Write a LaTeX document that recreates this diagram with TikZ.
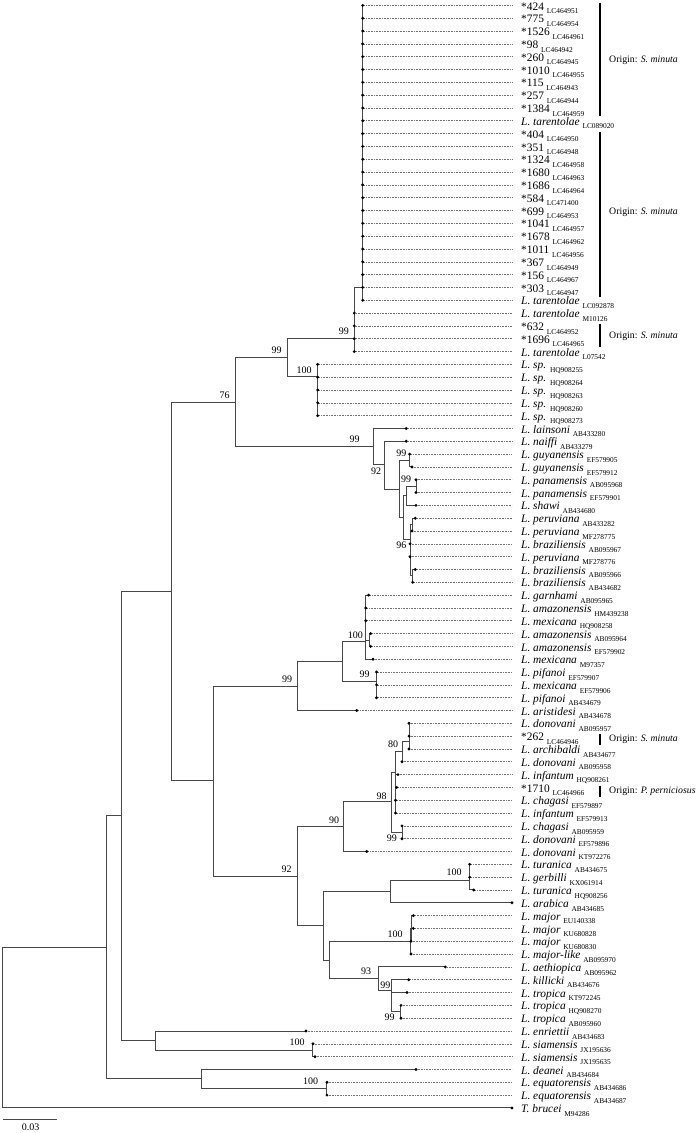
\documentclass[tikz,border=0pt]{standalone}
\usepackage{fontspec}
\setmainfont{Liberation Serif}
\newcommand\acc[1]{\raisebox{-3.6pt}{\fontsize{7.4pt}{8pt}\selectfont #1}}
\newcommand\Li[1]{\textit{L. #1}}
\newcommand\lf[4]{%
  \pgfmathsetmacro\yy{5.4+12.82*#1}%
  \coordinate (t#1) at (#2,\yy);%
  \coordinate (t#1e) at (512,\yy);%
  \node[lab] (t#1l) at (521,\yy+4.6) {#3 \acc{#4}};%
  \draw[dl] (t#1) -- (t#1e);%
}
\tikzset{
  lab/.style={anchor=base west, inner sep=0pt, font=\fontsize{11.4pt}{13pt}\selectfont},
  bs/.style={inner sep=0pt, font=\fontsize{10pt}{11pt}\selectfont},
  orig/.style={anchor=west, inner sep=0pt, font=\fontsize{9.8pt}{11pt}\selectfont},
  br/.style={draw=black!72, line width=1pt},
  dl/.style={draw=black!55, line width=0.6pt, densely dotted},
  bar/.style={draw=black, line width=2.6pt},
}
\begin{document}
\begin{tikzpicture}[x=1pt,y=-1pt]
\useasboundingbox (0,0) rectangle (700,1133);
% leaves
\lf{0}{362.7}{*424}{LC464951}
\lf{1}{362.7}{*775}{LC464954}
\lf{2}{362.7}{*1526}{LC464961}
\lf{3}{362.7}{*98}{LC464942}
\lf{4}{362.7}{*260}{LC464945}
\lf{5}{362.7}{*1010}{LC464955}
\lf{6}{362.7}{*115}{LC464943}
\lf{7}{362.7}{*257}{LC464944}
\lf{8}{362.7}{*1384}{LC464959}
\lf{9}{362.7}{\Li{tarentolae}}{LC089020}
\lf{10}{362.7}{*404}{LC464950}
\lf{11}{362.7}{*351}{LC464948}
\lf{12}{362.7}{*1324}{LC464958}
\lf{13}{362.7}{*1680}{LC464963}
\lf{14}{362.7}{*1686}{LC464964}
\lf{15}{362.7}{*584}{LC471400}
\lf{16}{362.7}{*699}{LC464953}
\lf{17}{362.7}{*1041}{LC464957}
\lf{18}{362.7}{*1678}{LC464962}
\lf{19}{362.7}{*1011}{LC464956}
\lf{20}{362.7}{*367}{LC464949}
\lf{21}{362.7}{*156}{LC464967}
\lf{22}{362.7}{*303}{LC464947}
\lf{23}{362.7}{\Li{tarentolae}}{LC092878}
\lf{24}{354.3}{\Li{tarentolae}}{M10126}
\lf{25}{354.3}{*632}{LC464952}
\lf{26}{354.3}{*1696}{LC464965}
\lf{27}{354.3}{\Li{tarentolae}}{L07542}
\lf{28}{317.7}{\Li{sp.}}{HQ908255}
\lf{29}{317.7}{\Li{sp.}}{HQ908264}
\lf{30}{317.7}{\Li{sp.}}{HQ908263}
\lf{31}{317.7}{\Li{sp.}}{HQ908260}
\lf{32}{317.7}{\Li{sp.}}{HQ908273}
\lf{33}{406.3}{\Li{lainsoni}}{AB433280}
\lf{34}{406.3}{\Li{naiffi}}{AB433279}
\lf{35}{409.7}{\Li{guyanensis}}{EF579905}
\lf{36}{412}{\Li{guyanensis}}{EF579912}
\lf{37}{416}{\Li{panamensis}}{AB095968}
\lf{38}{416}{\Li{panamensis}}{EF579901}
\lf{39}{416}{\Li{shawi}}{AB434680}
\lf{40}{415.3}{\Li{peruviana}}{AB433282}
\lf{41}{412}{\Li{peruviana}}{MF278775}
\lf{42}{410}{\Li{braziliensis}}{AB095967}
\lf{43}{410}{\Li{peruviana}}{MF278776}
\lf{44}{415.3}{\Li{braziliensis}}{AB095966}
\lf{45}{412.7}{\Li{braziliensis}}{AB434682}
\lf{46}{368.7}{\Li{garnhami}}{AB095965}
\lf{47}{365.7}{\Li{amazonensis}}{HM439238}
\lf{48}{365.7}{\Li{mexicana}}{HQ908258}
\lf{49}{370.7}{\Li{amazonensis}}{AB095964}
\lf{50}{370.7}{\Li{amazonensis}}{EF579902}
\lf{51}{373}{\Li{mexicana}}{M97357}
\lf{52}{376.5}{\Li{pifanoi}}{EF579907}
\lf{53}{376.5}{\Li{mexicana}}{EF579906}
\lf{54}{376.5}{\Li{pifanoi}}{AB434679}
\lf{55}{356.7}{\Li{aristidesi}}{AB434678}
\lf{56}{409}{\Li{donovani}}{AB095957}
\lf{57}{409}{*262}{LC464946}
\lf{58}{409}{\Li{archibaldi}}{AB434677}
\lf{59}{402}{\Li{donovani}}{AB095958}
\lf{60}{398}{\Li{infantum}}{HQ908261}
\lf{61}{396.7}{*1710}{LC464966}
\lf{62}{395.5}{\Li{chagasi}}{EF579897}
\lf{63}{395.5}{\Li{infantum}}{EF579913}
\lf{64}{402}{\Li{chagasi}}{AB095959}
\lf{65}{402}{\Li{donovani}}{EF579896}
\lf{66}{366.7}{\Li{donovani}}{KT972276}
\lf{67}{469.7}{\Li{turanica}}{AB434675}
\lf{68}{469.7}{\Li{gerbilli}}{KX061914}
\lf{69}{473.7}{\Li{turanica}}{HQ908256}
\lf{70}{512}{\Li{arabica}}{AB434685}
\lf{71}{413.3}{\Li{major}}{EU140338}
\lf{72}{413.3}{\Li{major}}{KU680828}
\lf{73}{411}{\Li{major}}{KU680830}
\lf{74}{411}{\Li{major-like}}{AB095970}
\lf{75}{445.3}{\Li{aethiopica}}{AB095962}
\lf{76}{408.7}{\Li{killicki}}{AB434676}
\lf{77}{407}{\Li{tropica}}{KT972245}
\lf{78}{401}{\Li{tropica}}{HQ908270}
\lf{79}{401}{\Li{tropica}}{AB095960}
\lf{80}{306}{\Li{enriettii}}{AB434683}
\lf{81}{313}{\Li{siamensis}}{JX195636}
\lf{82}{315}{\Li{siamensis}}{JX195635}
\lf{83}{416}{\Li{deanei}}{AB434684}
\lf{84}{327}{\Li{equatorensis}}{AB434686}
\lf{85}{327}{\Li{equatorensis}}{AB434687}
\lf{86}{512}{\textit{T. brucei}}{M94286}
% internal nodes
\coordinate (Pt) at (362.7,287.3);
\coordinate (N354) at (354.3,338.3);
\coordinate (Lsp) at (317.7,376.3);
\coordinate (N287) at (287.3,357);
\coordinate (V1) at (373.3,446.7);
\coordinate (V2) at (384.3,464.9);
\coordinate (V3) at (399.3,489);
\coordinate (G) at (409.7,460.5);
\coordinate (M) at (403,517.5);
\coordinate (PS) at (406,495.8);
\coordinate (PA) at (416,486.1);
\coordinate (Q) at (410,539.3);
\coordinate (Q1) at (412,524.6);
\coordinate (Q2) at (412.7,575.9);
\coordinate (N99m) at (297,686);
\coordinate (Mp) at (342.3,661.3);
\coordinate (Mx) at (365.7,641);
\coordinate (Ma) at (369.3,640);
\coordinate (P99) at (376.5,681.6);
\coordinate (D1) at (409,741);
\coordinate (D2) at (402,751.7);
\coordinate (E) at (395.5,793.8);
\coordinate (Dn) at (395,772.7);
\coordinate (F) at (402,832.3);
\coordinate (N98) at (391,801.3);
\coordinate (N90) at (343.3,826.4);
\coordinate (T1) at (469.7,870.8);
\coordinate (T) at (469.7,880.4);
\coordinate (U) at (390.7,891.6);
\coordinate (Maj1) at (411,928.5);
\coordinate (Maj) at (410.7,941.3);
\coordinate (N99b) at (400.3,1011.8);
\coordinate (N99a) at (391.7,990.9);
\coordinate (N93) at (378.7,978.9);
\coordinate (W) at (329.3,960.1);
\coordinate (N323) at (323.3,925.9);
\coordinate (N92) at (297,876.1);
\coordinate (N213) at (213.3,780.7);
\coordinate (N235) at (235.7,402.3);
\coordinate (N171) at (171,591.5);
\coordinate (B) at (121.7,815.7);
\coordinate (ES) at (155,1040);
\coordinate (Si) at (312.7,1050.2);
\coordinate (A) at (106,947);
\coordinate (DE) at (201,1078);
\coordinate (Eq) at (326.7,1088.7);
\coordinate (R) at (2.7,1027.4);
% branches
\foreach \i in {0,...,23} {\draw[br] (Pt) |- (t\i);}
\foreach \ch in {Pt,t24,t25,t26,t27} {\draw[br] (N354) |- (\ch);}
\foreach \i in {28,...,32} {\draw[br] (Lsp) |- (t\i);}
\foreach \ch in {N354,Lsp} {\draw[br] (N287) |- (\ch);}
\foreach \ch in {N287,V1} {\draw[br] (N235) |- (\ch);}
\foreach \ch in {t33,V2} {\draw[br] (V1) |- (\ch);}
\foreach \ch in {t34,V3} {\draw[br] (V2) |- (\ch);}
\foreach \ch in {G,M} {\draw[br] (V3) |- (\ch);}
\foreach \ch in {t35,t36} {\draw[br] (G) |- (\ch);}
\foreach \ch in {PS,Q} {\draw[br] (M) |- (\ch);}
\foreach \ch in {PA,t39} {\draw[br] (PS) |- (\ch);}
\foreach \ch in {t37,t38} {\draw[br] (PA) |- (\ch);}
\foreach \ch in {Q1,t42,t43,Q2} {\draw[br] (Q) |- (\ch);}
\foreach \ch in {t40,t41} {\draw[br] (Q1) |- (\ch);}
\foreach \ch in {t44,t45} {\draw[br] (Q2) |- (\ch);}
\foreach \ch in {N235,N213} {\draw[br] (N171) |- (\ch);}
\foreach \ch in {N99m,N92} {\draw[br] (N213) |- (\ch);}
\foreach \ch in {Mp,t55} {\draw[br] (N99m) |- (\ch);}
\foreach \ch in {Mx,P99} {\draw[br] (Mp) |- (\ch);}
\foreach \ch in {t46,t47,t48,Ma,t51} {\draw[br] (Mx) |- (\ch);}
\foreach \ch in {t49,t50} {\draw[br] (Ma) |- (\ch);}
\foreach \ch in {t52,t53,t54} {\draw[br] (P99) |- (\ch);}
\foreach \ch in {N90,N323} {\draw[br] (N92) |- (\ch);}
\foreach \ch in {N98,t66} {\draw[br] (N90) |- (\ch);}
\foreach \ch in {Dn,F} {\draw[br] (N98) |- (\ch);}
\foreach \ch in {D2,E} {\draw[br] (Dn) |- (\ch);}
\foreach \ch in {D1,t59} {\draw[br] (D2) |- (\ch);}
\foreach \ch in {t56,t57,t58} {\draw[br] (D1) |- (\ch);}
\foreach \ch in {t60,t61,t62,t63} {\draw[br] (E) |- (\ch);}
\foreach \ch in {t64,t65} {\draw[br] (F) |- (\ch);}
\foreach \ch in {U,W} {\draw[br] (N323) |- (\ch);}
\foreach \ch in {T,t70} {\draw[br] (U) |- (\ch);}
\foreach \ch in {T1,t69} {\draw[br] (T) |- (\ch);}
\foreach \ch in {t67,t68} {\draw[br] (T1) |- (\ch);}
\foreach \ch in {Maj,N93} {\draw[br] (W) |- (\ch);}
\foreach \ch in {Maj1,t74} {\draw[br] (Maj) |- (\ch);}
\foreach \ch in {t71,t72,t73} {\draw[br] (Maj1) |- (\ch);}
\foreach \ch in {t75,N99a} {\draw[br] (N93) |- (\ch);}
\foreach \ch in {t76,t77,N99b} {\draw[br] (N99a) |- (\ch);}
\foreach \ch in {t78,t79} {\draw[br] (N99b) |- (\ch);}
\foreach \ch in {N171,ES} {\draw[br] (B) |- (\ch);}
\foreach \ch in {t80,Si} {\draw[br] (ES) |- (\ch);}
\foreach \ch in {t81,t82} {\draw[br] (Si) |- (\ch);}
\foreach \ch in {B,DE} {\draw[br] (A) |- (\ch);}
\foreach \ch in {t83,Eq} {\draw[br] (DE) |- (\ch);}
\foreach \ch in {t84,t85} {\draw[br] (Eq) |- (\ch);}
\foreach \ch in {A,t86} {\draw[br] (R) |- (\ch);}
% tip dots
\foreach \i in {0,...,86} {\fill[black] (t\i) circle[radius=1.6pt];}
% bootstrap values
\node[bs] (bN354) at (343.8,331.7) {99};
\node[bs] (bN287) at (276.7,350) {99};
\node[bs] (bLsp) at (304.2,370) {100};
\node[bs] (bN235) at (224.5,395) {76};
\node[bs] (bV1) at (354.7,439) {99};
\node[bs] (bV2) at (376,471) {92};
\node[bs] (bG) at (401.3,453.7) {99};
\node[bs] (bPA) at (406,479) {99};
\node[bs] (bQ) at (401.3,545.7) {96};
\node[bs] (bMx) at (355.3,635.7) {100};
\node[bs] (bP99) at (364.7,674.3) {99};
\node[bs] (bN99m) at (287,679) {99};
\node[bs] (bD2) at (393,744.3) {80};
\node[bs] (bN98) at (381.7,796) {98};
\node[bs] (bF) at (391.8,838.3) {99};
\node[bs] (bN90) at (334,820.3) {90};
\node[bs] (bN92) at (286.7,869.3) {92};
\node[bs] (bT) at (454,872.7) {100};
\node[bs] (bMaj) at (395,934.3) {100};
\node[bs] (bN93) at (366,971) {93};
\node[bs] (bN99a) at (385.3,985.7) {99};
\node[bs] (bN99b) at (389.7,1017.7) {99};
\node[bs] (bSi) at (297,1042.3) {100};
\node[bs] (bEq) at (310.5,1081) {100};
% origin brackets
\coordinate (g1a) at (600,2.7); \coordinate (g1b) at (600,116);
\coordinate (g2a) at (600,132); \coordinate (g2b) at (600,297);
\coordinate (g3a) at (600,324); \coordinate (g3b) at (600,347);
\coordinate (g4a) at (600,734); \coordinate (g4b) at (600,745);
\coordinate (g5a) at (600,785.5); \coordinate (g5b) at (600,796.5);
\draw[bar] (g1a) -- (g1b);
\draw[bar] (g2a) -- (g2b);
\draw[bar] (g3a) -- (g3b);
\draw[bar] (g4a) -- (g4b);
\draw[bar] (g5a) -- (g5b);
\node[orig] (o1) at (609,60) {Origin: \textit{S. minuta}};
\node[orig] (o2) at (609,212) {Origin: \textit{S. minuta}};
\node[orig] (o3) at (609,336) {Origin: \textit{S. minuta}};
\node[orig] (o4) at (609,739.5) {Origin: \textit{S. minuta}};
\node[orig] (o5) at (609,791) {Origin: \textit{P. perniciosus}};
% scale bar
\coordinate (sb1) at (2.7,1119.3);
\coordinate (sb2) at (56.7,1119.3);
\draw[br] (sb1) -- (sb2);
\node[bs] (sbl) at (30.7,1127.3) {0.03};
\end{tikzpicture}
\end{document}
